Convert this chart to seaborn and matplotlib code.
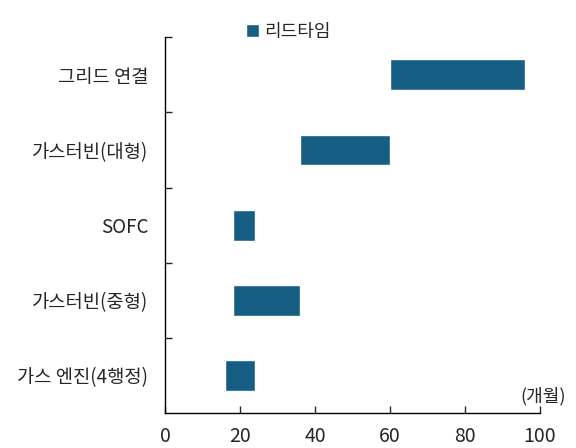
import pandas as pd
import seaborn as sns
import matplotlib
matplotlib.use('Agg')
import matplotlib.pyplot as plt

categories = ['그리드 연결', '가스터빈(대형)', 'SOFC', '가스터빈(중형)', '가스 엔진(4행정)']
start = [60, 36, 18, 18, 16]
end = [96, 60, 24, 36, 24]
xticks = [0, 20, 40, 60, 80, 100]

df = pd.DataFrame({'category': categories, 'start': start, 'end': end})
df['length'] = df['end'] - df['start']

sns.set_style('ticks')
plt.rcParams['font.family'] = ['Noto Sans CJK KR', 'DejaVu Sans']

fig = plt.figure(figsize=(5.76, 4.48), dpi=100)
ax = fig.add_axes([0.2865, 0.078, 0.651, 0.839])

sns.barplot(data=df, y='category', x='length', left=df['start'].tolist(),
            order=categories, color='#165e83', saturation=1, width=0.41,
            label='리드타임', ax=ax)

ax.set_xlim(0, 100)
ax.set_ylim(len(categories) - 0.5, -0.5)
ax.set_xticks(xticks)
ax.set_xlabel('')
ax.set_ylabel('')
sns.despine(ax=ax)

ax.set_yticks([i - 0.5 for i in range(len(categories))], minor=True)
ax.tick_params(axis='y', which='major', length=0, pad=12, labelsize=13.5)
ax.tick_params(axis='y', which='minor', direction='in', length=5, width=1)
ax.tick_params(axis='x', direction='in', length=5, width=1, pad=9, labelsize=14)
for s in ax.spines.values():
    s.set_linewidth(1)
    s.set_color('black')

ax.text(1.008, 0.045, '(개월)', transform=ax.transAxes, ha='center', va='center', fontsize=13)
ax.legend(loc='center', bbox_to_anchor=(0.33, 1.015), frameon=False,
          handlelength=0.7, handleheight=0.7, handletextpad=0.3, fontsize=13)

plt.savefig('out.png')
